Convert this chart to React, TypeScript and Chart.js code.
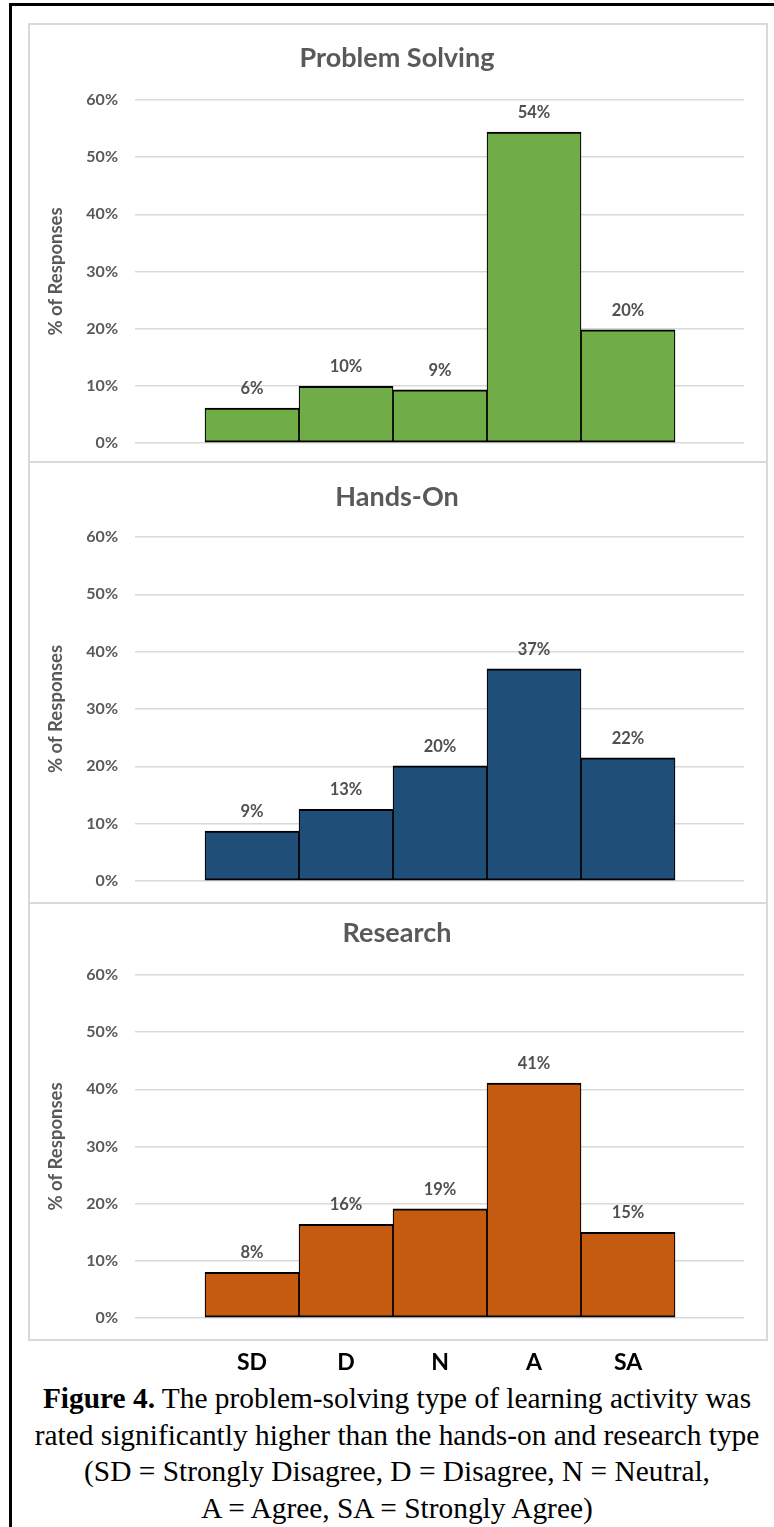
import React, { useEffect, useRef } from 'react';
import { Chart, registerables } from 'chart.js';

Chart.register(...registerables);

const CATEGORIES = ['SD', 'D', 'N', 'A', 'SA'];
const Y_TICKS = [0, 10, 20, 30, 40, 50, 60];
const PROBLEM_SOLVING = [6.1, 9.9, 9.3, 54.4, 19.8];
const HANDS_ON = [8.7, 12.5, 20.1, 37.0, 21.5];
const RESEARCH = [8.0, 16.4, 19.1, 41.1, 15.0];
const PANEL_TITLES = ['Problem Solving', 'Hands-On', 'Research'];
const Y_TITLE = '% of Responses';

const FONT = 'Lato';
const TEXT_GRAY = '#595959';

type PanelCfg = {
  title: string;
  values: number[];
  color: string;
  top: number;
  height: number;
  chartTop: number;
  chartBottom: number;
  titleCenter: number;
  showX: boolean;
};

const PANELS: PanelCfg[] = [
  { title: PANEL_TITLES[0], values: PROBLEM_SOLVING, color: '#70AD47', top: 23, height: 439, chartTop: 77, chartBottom: 420, titleCenter: 35, showX: false },
  { title: PANEL_TITLES[1], values: HANDS_ON, color: '#1F4E79', top: 462, height: 441, chartTop: 75, chartBottom: 419, titleCenter: 35, showX: false },
  { title: PANEL_TITLES[2], values: RESEARCH, color: '#C55A11', top: 903, height: 512, chartTop: 72, chartBottom: 415, titleCenter: 30, showX: true },
];

const barLabels = {
  id: 'barLabels',
  afterDatasetsDraw(chart: any) {
    const ctx = chart.ctx;
    const meta = chart.getDatasetMeta(0);
    const ds = chart.data.datasets[0];
    ctx.save();
    ctx.font = `bold 16.5px ${FONT}`;
    ctx.fillStyle = '#505050';
    ctx.textAlign = 'center';
    ctx.textBaseline = 'middle';
    meta.data.forEach((bar: any, i: number) => {
      const v = (ds.data[i] as any).y as number;
      ctx.fillText(Math.round(v) + '%', bar.x, bar.y - 19.5);
    });
    ctx.restore();
  },
};

function ChartPanel({ cfg }: { cfg: PanelCfg }) {
  const ref = useRef<HTMLCanvasElement>(null);
  useEffect(() => {
    const titleSize = 27;
    const titleH = titleSize * 1.2;
    const padTop = cfg.titleCenter - titleH / 2;
    const padBottom = cfg.chartTop - padTop - titleH;
    const xFontSize = 23;
    const xLine = xFontSize * 1.2;
    const labelCenter = 460;
    const xPad = labelCenter - cfg.chartBottom - xLine / 2;
    const yTickSize = 16;
    const bottomPad = cfg.showX
      ? cfg.height - cfg.chartBottom - 2 * xPad - xLine
      : cfg.height - cfg.chartBottom;
    const padLeft = 22;
    const yTitleSize = 18.5;
    const yTitleLine = yTitleSize * 1.2;
    const chart = new Chart(ref.current as HTMLCanvasElement, {
      type: 'bar',
      data: {
        datasets: [
          {
            data: cfg.values.map((v, i) => ({ x: i, y: v })),
            backgroundColor: cfg.color,
            borderColor: '#000000',
            borderWidth: { top: 2, bottom: 2, left: 1.2, right: 1.2 },
            borderSkipped: false,
            barPercentage: 1,
            categoryPercentage: 1,
          } as any,
        ],
      },
      options: {
        animation: false,
        responsive: false,
        events: [],
        layout: { padding: { left: padLeft, right: 24, top: 0, bottom: bottomPad } },
        plugins: {
          legend: { display: false },
          tooltip: { enabled: false },
          title: {
            display: true,
            text: cfg.title,
            color: TEXT_GRAY,
            font: { family: FONT, size: titleSize, weight: 'bold', lineHeight: 1.2 },
            padding: { top: padTop, bottom: padBottom },
          },
        },
        scales: {
          x: {
            type: 'linear',
            min: -1.245,
            max: 5.234,
            offset: false,
            display: cfg.showX,
            grid: { display: false, drawTicks: false, offset: false },
            border: { display: false },
            afterBuildTicks: (s: any) => {
              s.ticks = CATEGORIES.map((_, i) => ({ value: i }));
            },
            ticks: {
              autoSkip: false,
              maxRotation: 0,
              padding: xPad,
              color: '#000000',
              font: { family: FONT, size: xFontSize, weight: 'bold', lineHeight: 1.2 },
              callback: (v: any) => CATEGORIES[v as number] ?? '',
            },
          },
          y: {
            min: 0,
            max: 60,
            afterBuildTicks: (s: any) => {
              s.ticks = Y_TICKS.map((v) => ({ value: v }));
            },
            afterFit: (s: any) => {
              s.width = 107 - padLeft;
              s.paddingTop = 0;
              s.paddingBottom = 0;
            },
            grid: { color: '#d9d9d9', lineWidth: 1.5, drawTicks: false },
            border: { display: false },
            ticks: {
              padding: 17,
              color: TEXT_GRAY,
              font: { family: FONT, size: yTickSize, weight: 'bold', lineHeight: 1.2 },
              callback: (v: any) => v + '%',
            },
            title: {
              display: true,
              text: Y_TITLE,
              color: TEXT_GRAY,
              font: { family: FONT, size: yTitleSize, weight: 'bold', lineHeight: 1.2 },
              padding: { top: 28 - padLeft - yTitleLine / 2, bottom: 0 },
            },
          },
        },
      } as any,
      plugins: [barLabels],
    });
    return () => chart.destroy();
  }, [cfg]);
  return (
    <canvas
      ref={ref}
      width={740}
      height={cfg.height}
      style={{ position: 'absolute', left: 28, top: cfg.top, width: 740, height: cfg.height }}
    />
  );
}

export default function App() {
  const panelBorder = '2px solid #d9d9d9';
  return (
    <div style={{ position: 'absolute', left: 0, top: 0, width: 774, height: 1527, overflow: 'hidden', background: '#ffffff' }}>
      <div style={{ position: 'absolute', left: 9, top: 3, width: 900, height: 1700, border: '3px solid #000000', boxSizing: 'border-box' }} />
      <div style={{ position: 'absolute', left: 28, top: 23, width: 740, height: 440, border: panelBorder, boxSizing: 'border-box' }} />
      <div style={{ position: 'absolute', left: 28, top: 463, width: 740, height: 441, border: panelBorder, borderTop: 'none', boxSizing: 'border-box' }} />
      <div style={{ position: 'absolute', left: 28, top: 904, width: 740, height: 437, border: panelBorder, borderTop: 'none', boxSizing: 'border-box' }} />
      <div
        style={{
          position: 'absolute',
          left: 0,
          top: 1380,
          width: 794,
          textAlign: 'center',
          fontFamily: '"Liberation Serif", serif',
          fontSize: 29.4,
          lineHeight: '36.5px',
          color: '#000000',
          whiteSpace: 'nowrap',
        }}
      >
        <b>Figure 4.</b> The problem-solving type of learning activity was
        <br />
        rated significantly higher than the hands-on and research type
        <br />
        (SD = Strongly Disagree, D = Disagree, N = Neutral,
        <br />
        A = Agree, SA = Strongly Agree)
      </div>
      {PANELS.map((p) => (
        <ChartPanel key={p.title} cfg={p} />
      ))}
    </div>
  );
}
